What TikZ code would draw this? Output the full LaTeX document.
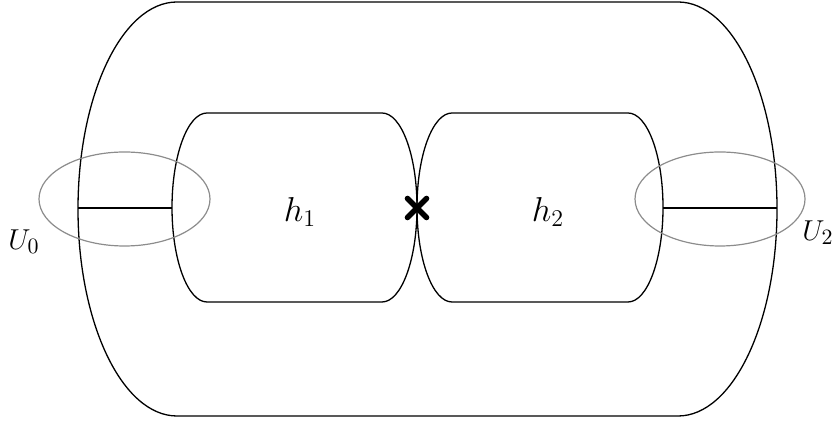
\documentclass[tikz,border=0pt]{standalone}
\usetikzlibrary{calc}
\begin{document}
\begin{tikzpicture}[x=0.5pt,y=0.5pt,
  curve/.style={line width=0.65pt},
  nbhd/.style={line width=0.6pt,draw=black!45},
  lbl/.style={inner sep=0pt,font=\fontsize{15}{18}\selectfont},
  hlbl/.style={inner sep=0pt,font=\fontsize{16.5}{19}\selectfont}]
\useasboundingbox (0,0) rectangle (833,421);
% outer shape
\draw[curve] (177,419) -- (678,419) arc[start angle=90,end angle=-90,x radius=99,y radius=207]
  -- (177,5) arc[start angle=270,end angle=90,x radius=99,y radius=207] -- cycle;
% h1 box
\draw[curve] (207,308) -- (382,308) arc[start angle=90,end angle=-90,x radius=35,y radius=94.5]
  -- (207,119) arc[start angle=270,end angle=90,x radius=35,y radius=94.5] -- cycle;
% h2 box
\draw[curve] (452,308) -- (628,308) arc[start angle=90,end angle=-90,x radius=35,y radius=94.5]
  -- (452,119) arc[start angle=270,end angle=90,x radius=35,y radius=94.5] -- cycle;
% connecting lines
\coordinate (l0) at (78,213); \coordinate (l1) at (172,213);
\coordinate (r0) at (663,213); \coordinate (r1) at (777,213);
\draw[curve] (l0) -- (l1);
\draw[curve] (r0) -- (r1);
% neighbourhoods
\draw[nbhd] (124.5,222) ellipse[x radius=85.5,y radius=47];
\draw[nbhd] (720,222) ellipse[x radius=85,y radius=47];
% cross
\coordinate (x) at (417,213);
\draw[line width=2.8pt,line cap=round] ($(x)+(-9.5,-9.5)$) -- ($(x)+(9.5,9.5)$);
\draw[line width=2.8pt,line cap=round] ($(x)+(-9.5,9.5)$) -- ($(x)+(9.5,-9.5)$);
% labels
\node[lbl] (u0) at (24,179) {$U_0$};
\node[lbl] (u2) at (818,188) {$U_2$};
\node[hlbl] (h1) at (300,209) {$h_1$};
\node[hlbl] (h2) at (548,209) {$h_2$};
\end{tikzpicture}
\end{document}
